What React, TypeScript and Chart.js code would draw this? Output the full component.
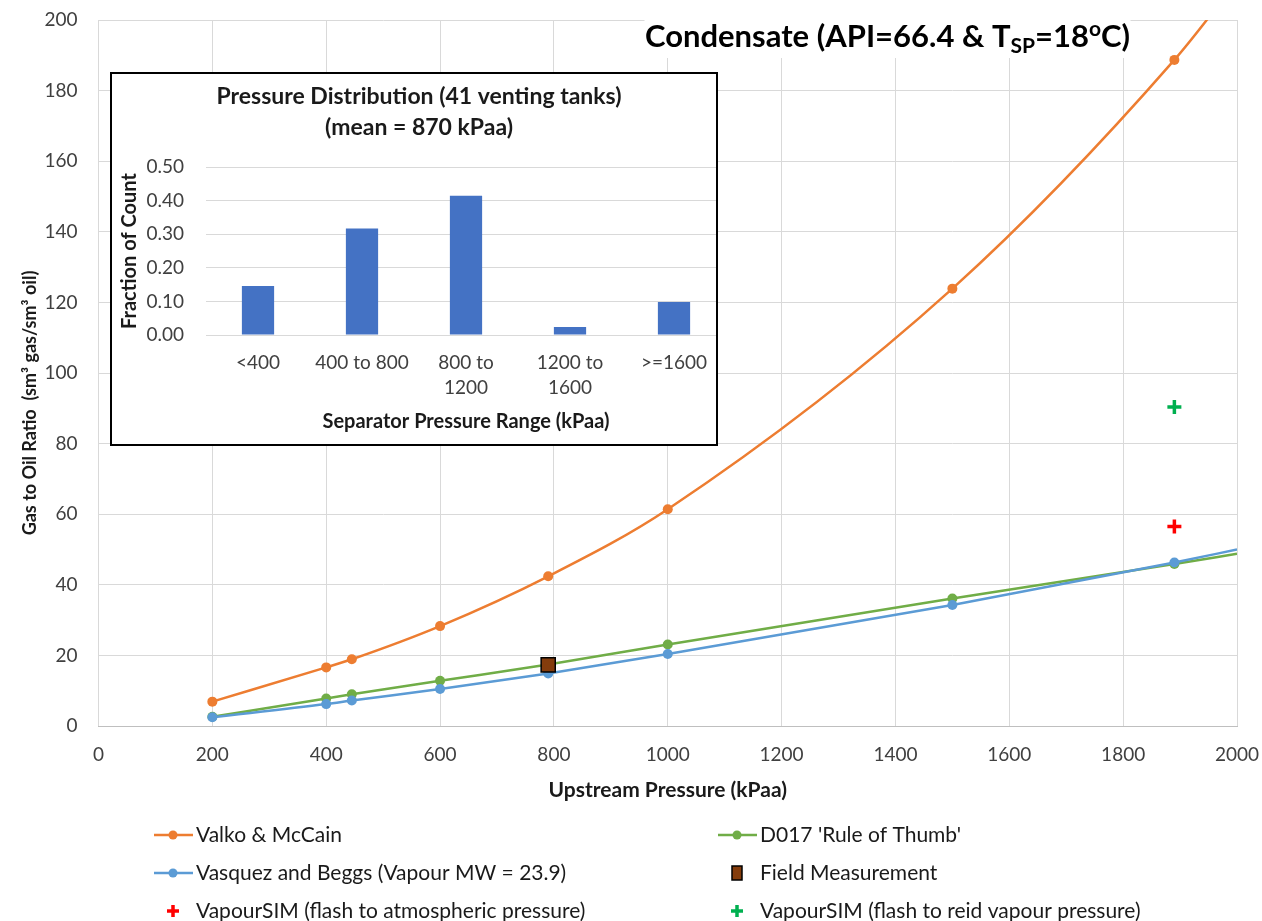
import { useEffect, useRef } from "react";
import { Chart, registerables } from "chart.js";

Chart.register(...registerables);

const FONT = "Lato, 'Open Sans', 'DejaVu Sans', sans-serif";
const TICK_COLOR = "#404040";
const TITLE_COLOR = "#1a1a1a";
const GRID_COLOR = "#d9d9d9";

const ORANGE = "#ed7d31";
const GREEN = "#70ad47";
const BLUE = "#5b9bd5";
const BROWN = "#843c0c";
const RED = "#ff0000";
const BRIGHT_GREEN = "#00b050";
const BAR_BLUE = "#4472c4";

// Upstream pressure (kPaa) where each correlation is evaluated; the last entry carries the curves to the axis edge
const pressureKPaa = [200, 400, 445, 600, 790, 1000, 1500, 1890, 2000];
const valkoMcCainGor = [6.9, 16.6, 18.9, 28.3, 42.4, 61.4, 123.9, 188.7, 211];
const d017Gor = [2.6, 7.8, 9.0, 12.8, 17.4, 23.1, 36.1, 45.9, 48.8];
const vasquezBeggsGor = [2.5, 6.2, 7.2, 10.5, 14.9, 20.4, 34.3, 46.3, 50.0];

const fieldPressureKPaa = [790];
const fieldGor = [17.3];

const vapourSimPressureKPaa = [1890];
const vapourSimAtmGor = [56.5];
const vapourSimReidGor = [90.4];

const X_MAX = 2000;
const X_STEP = 200;
const Y_MAX = 200;
const Y_STEP = 20;

// Separator pressure histogram
const rangeLabels = [["<400"], ["400 to 800"], ["800 to", "1200"], ["1200 to", "1600"], [">=1600"]];
const fractionOfCount = [0.146, 0.317, 0.415, 0.024, 0.098];
const FRACTION_MAX = 0.5;
const FRACTION_STEP = 0.1;

const toXY = (xs: number[], ys: number[]) => xs.map((x, i) => ({ x, y: ys[i] }));
const curveMarkers = (r: number) => pressureKPaa.map((_, i) => (i < pressureKPaa.length - 1 ? r : 0));

function drawCross(ctx: CanvasRenderingContext2D, x: number, y: number, r: number, color: string, w: number) {
  ctx.save();
  ctx.strokeStyle = color;
  ctx.lineWidth = w;
  ctx.beginPath();
  ctx.moveTo(x - r, y);
  ctx.lineTo(x + r, y);
  ctx.moveTo(x, y - r);
  ctx.lineTo(x, y + r);
  ctx.stroke();
  ctx.restore();
}

const overlayPlugin = {
  id: "gorOverlay",
  afterDraw(chart: any) {
    const ctx: CanvasRenderingContext2D = chart.ctx;
    const area = chart.chartArea;
    ctx.save();

    // vertical axis title
    ctx.save();
    ctx.translate(30, 403);
    ctx.rotate(-Math.PI / 2);
    ctx.font = `bold 18px ${FONT}`;
    ctx.fillStyle = TITLE_COLOR;
    ctx.textAlign = "center";
    ctx.textBaseline = "middle";
    ctx.fillText("Gas to Oil Ratio  (sm³ gas/sm³ oil)", 0, 0);
    ctx.restore();

    // chart title with sub/superscripts on a white plate
    const big = `bold 31px ${FONT}`;
    const small = `bold 21px ${FONT}`;
    const parts = [
      { t: "Condensate (API=66.4 & T", f: big, dy: 0 },
      { t: "SP", f: small, dy: 6 },
      { t: "=18", f: big, dy: 0 },
      { t: "o", f: small, dy: -11 },
      { t: "C)", f: big, dy: 0 },
    ];
    let total = 0;
    const widths = parts.map((p) => {
      ctx.font = p.f;
      const w = ctx.measureText(p.t).width;
      total += w;
      return w;
    });
    const cx = 887.5;
    ctx.fillStyle = "#ffffff";
    ctx.fillRect(cx - 243, area.top - 6, 486, 44);
    let x = cx - total / 2;
    const baseline = 47;
    ctx.fillStyle = "#000000";
    ctx.textAlign = "left";
    ctx.textBaseline = "alphabetic";
    parts.forEach((p, i) => {
      ctx.font = p.f;
      ctx.fillText(p.t, x, baseline + p.dy);
      x += widths[i];
    });

    // legend, two columns by three rows
    const ds = chart.data.datasets;
    const cols = [154, 718];
    const rows = [835, 873, 911];
    const items = [
      { d: ds[0], kind: "line", col: 0, row: 0 },
      { d: ds[1], kind: "line", col: 1, row: 0 },
      { d: ds[2], kind: "line", col: 0, row: 1 },
      { d: ds[3], kind: "rect", col: 1, row: 1 },
      { d: ds[4], kind: "cross", col: 0, row: 2 },
      { d: ds[5], kind: "cross", col: 1, row: 2 },
    ];
    ctx.font = `21px ${FONT}`;
    ctx.textBaseline = "middle";
    items.forEach((it) => {
      const lx = cols[it.col];
      const ly = rows[it.row];
      const mx = lx + 19;
      if (it.kind === "line") {
        ctx.strokeStyle = it.d.borderColor;
        ctx.lineWidth = 2.5;
        ctx.beginPath();
        ctx.moveTo(lx, ly);
        ctx.lineTo(lx + 39, ly);
        ctx.stroke();
        ctx.fillStyle = it.d.borderColor;
        ctx.beginPath();
        ctx.arc(mx, ly, 4.5, 0, Math.PI * 2);
        ctx.fill();
      } else if (it.kind === "rect") {
        ctx.fillStyle = it.d.pointBackgroundColor;
        ctx.fillRect(mx - 5, ly - 7, 10, 14);
        ctx.strokeStyle = "#000";
        ctx.lineWidth = 1.5;
        ctx.strokeRect(mx - 5, ly - 7, 10, 14);
      } else {
        drawCross(ctx, mx, ly, 6, it.d.pointBorderColor, 3.5);
      }
      ctx.fillStyle = "#1a1a1a";
      ctx.textAlign = "left";
      ctx.fillText(it.d.label, lx + 42, ly);
    });
    ctx.restore();
  },
};

function GorChart() {
  const ref = useRef<HTMLCanvasElement>(null);
  useEffect(() => {
    const chart = new Chart(ref.current as HTMLCanvasElement, {
      type: "line",
      data: {
        datasets: [
          {
            label: "Valko & McCain",
            data: toXY(pressureKPaa, valkoMcCainGor),
            borderColor: ORANGE,
            backgroundColor: ORANGE,
            pointBackgroundColor: ORANGE,
            pointBorderColor: ORANGE,
            borderWidth: 2.5,
            pointRadius: curveMarkers(5),
            pointBorderWidth: 0,
            cubicInterpolationMode: "monotone",
            order: 4,
          },
          {
            label: "D017 'Rule of Thumb'",
            data: toXY(pressureKPaa, d017Gor),
            borderColor: GREEN,
            backgroundColor: GREEN,
            pointBackgroundColor: GREEN,
            pointBorderColor: GREEN,
            borderWidth: 2.5,
            pointRadius: curveMarkers(5),
            pointBorderWidth: 0,
            cubicInterpolationMode: "monotone",
            order: 3,
          },
          {
            label: "Vasquez and Beggs (Vapour MW = 23.9)",
            data: toXY(pressureKPaa, vasquezBeggsGor),
            borderColor: BLUE,
            backgroundColor: BLUE,
            pointBackgroundColor: BLUE,
            pointBorderColor: BLUE,
            borderWidth: 2.5,
            pointRadius: curveMarkers(5),
            pointBorderWidth: 0,
            cubicInterpolationMode: "monotone",
            order: 2,
          },
          {
            label: "Field Measurement",
            data: toXY(fieldPressureKPaa, fieldGor),
            showLine: false,
            pointStyle: "rect",
            pointRadius: 10,
            pointBackgroundColor: BROWN,
            pointBorderColor: "#000000",
            pointBorderWidth: 1.5,
            borderColor: "#000000",
            backgroundColor: BROWN,
            order: 1,
          },
          {
            label: "VapourSIM (flash to atmospheric pressure)",
            data: toXY(vapourSimPressureKPaa, vapourSimAtmGor),
            showLine: false,
            pointStyle: "cross",
            pointRadius: 7,
            pointBorderColor: RED,
            pointBorderWidth: 3.5,
            borderColor: RED,
            order: 1,
          },
          {
            label: "VapourSIM (flash to reid vapour pressure)",
            data: toXY(vapourSimPressureKPaa, vapourSimReidGor),
            showLine: false,
            pointStyle: "cross",
            pointRadius: 7,
            pointBorderColor: BRIGHT_GREEN,
            pointBorderWidth: 3.5,
            borderColor: BRIGHT_GREEN,
            order: 1,
          },
        ],
      },
      options: {
        animation: false,
        responsive: false,
        maintainAspectRatio: false,
        layout: { padding: { top: 20, right: 25, left: 0, bottom: 105 } },
        plugins: { legend: { display: false }, tooltip: { enabled: false }, title: { display: false } },
        scales: {
          x: {
            type: "linear",
            min: 0,
            max: X_MAX,
            ticks: {
              stepSize: X_STEP,
              font: { family: FONT, size: 19 },
              color: TICK_COLOR,
              padding: 17.6,
              maxRotation: 0,
              callback: (v: any) => String(v),
            },
            grid: { color: GRID_COLOR, drawTicks: false },
            border: { color: "#bfbfbf" },
            title: {
              display: true,
              text: "Upstream Pressure (kPaa)",
              font: { family: FONT, size: 21, weight: "bold" },
              color: TITLE_COLOR,
              padding: { top: 0, bottom: 13.4 },
            },
            afterFit: (s: any) => {
              s.height = 90;
              s.paddingLeft = 0;
              s.paddingRight = 0;
            },
          },
          y: {
            min: 0,
            max: Y_MAX,
            ticks: {
              stepSize: Y_STEP,
              font: { family: FONT, size: 19 },
              color: TICK_COLOR,
              padding: 21,
              callback: (v: any) => String(v),
            },
            grid: { color: GRID_COLOR, drawTicks: false },
            border: { display: false },
            afterFit: (s: any) => {
              s.width = 98.5;
              s.paddingTop = 0;
              s.paddingBottom = 0;
            },
          },
        },
      },
      plugins: [overlayPlugin],
    } as any);
    return () => chart.destroy();
  }, []);
  return <canvas ref={ref} width={1262} height={921} style={{ position: "absolute", left: 0, top: 0 }} />;
}

function PressureHistogram() {
  const ref = useRef<HTMLCanvasElement>(null);
  useEffect(() => {
    const chart = new Chart(ref.current as HTMLCanvasElement, {
      type: "bar",
      data: {
        labels: rangeLabels,
        datasets: [
          {
            label: "Fraction of Count",
            data: fractionOfCount,
            backgroundColor: BAR_BLUE,
            categoryPercentage: 1,
            barPercentage: 0.31,
          },
        ],
      },
      options: {
        animation: false,
        responsive: false,
        maintainAspectRatio: false,
        layout: { padding: { left: 0, right: 6, top: 0, bottom: 0 } },
        plugins: {
          legend: { display: false },
          tooltip: { enabled: false },
          title: {
            display: true,
            text: ["Pressure Distribution (41 venting tanks)", "(mean = 870 kPaa)"],
            font: { family: FONT, size: 23, weight: "bold", lineHeight: 1.35 },
            color: TITLE_COLOR,
            padding: { top: 7.5, bottom: 23.5 },
          },
        },
        scales: {
          x: {
            grid: { display: false, drawTicks: false },
            border: { color: GRID_COLOR },
            ticks: { font: { family: FONT, size: 19, lineHeight: 1.33 }, color: TICK_COLOR, padding: 15.4, maxRotation: 0, autoSkip: false },
            title: {
              display: true,
              text: "Separator Pressure Range (kPaa)",
              font: { family: FONT, size: 20, weight: "bold" },
              color: TITLE_COLOR,
              padding: { top: 0, bottom: 10 },
            },
            afterFit: (s: any) => {
              s.height = 109;
              s.paddingLeft = 0;
              s.paddingRight = 0;
            },
          },
          y: {
            min: 0,
            max: FRACTION_MAX,
            ticks: {
              stepSize: FRACTION_STEP,
              font: { family: FONT, size: 19 },
              color: TICK_COLOR,
              padding: 22,
              callback: (v: any) => Number(v).toFixed(2),
            },
            grid: { color: GRID_COLOR, drawTicks: false },
            border: { display: false },
            title: {
              display: true,
              text: "Fraction of Count",
              font: { family: FONT, size: 20, weight: "bold" },
              color: TITLE_COLOR,
              padding: { top: 5.5, bottom: 0 },
            },
            afterFit: (s: any) => {
              s.width = 94;
              s.paddingTop = 0;
              s.paddingBottom = 0;
            },
          },
        },
      },
    } as any);
    return () => chart.destroy();
  }, []);
  return (
    <div
      style={{
        position: "absolute",
        left: 110,
        top: 72,
        width: 608,
        height: 374,
        boxSizing: "border-box",
        border: "2px solid #000",
        background: "#fff",
        overflow: "hidden",
      }}
    >
      <canvas ref={ref} width={620} height={370} style={{ display: "block" }} />
    </div>
  );
}

export default function App() {
  return (
    <div style={{ position: "fixed", left: 0, top: 0, width: 1262, height: 921, background: "#fff", overflow: "hidden" }}>
      <GorChart />
      <PressureHistogram />
    </div>
  );
}
